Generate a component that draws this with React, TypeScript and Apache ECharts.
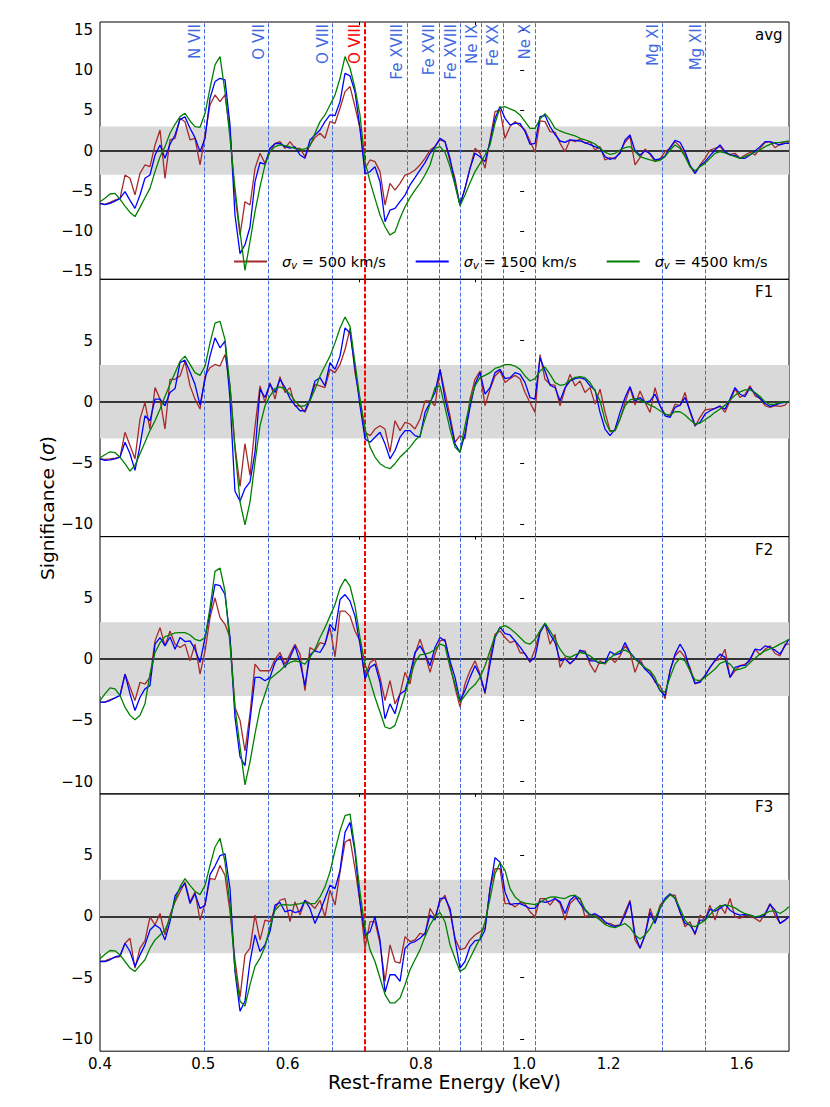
import React, { useEffect, useRef } from 'react';
import * as echarts from 'echarts';

// Energy grid (keV)
const E = [0.4000,0.4043,0.4087,0.4132,0.4177,0.4222,0.4268,0.4314,0.4361,0.4408,
0.4456,0.4505,0.4554,0.4603,0.4653,0.4704,0.4755,0.4806,0.4859,0.4911,
0.4965,0.5019,0.5073,0.5128,0.5184,0.5240,0.5297,0.5354,0.5413,0.5471,
0.5531,0.5591,0.5652,0.5713,0.5775,0.5838,0.5901,0.5965,0.6030,0.6095,
0.6162,0.6228,0.6296,0.6364,0.6434,0.6503,0.6574,0.6646,0.6718,0.6791,
0.6865,0.6939,0.7014,0.7091,0.7168,0.7245,0.7324,0.7404,0.7484,0.7565,
0.7648,0.7731,0.7815,0.7899,0.7985,0.8072,0.8160,0.8248,0.8338,0.8428,
0.8520,0.8612,0.8706,0.8800,0.8896,0.8993,0.9091,0.9189,0.9289,0.9390,
0.9492,0.9595,0.9699,0.9805,0.9911,1.0019,1.0127,1.0237,1.0349,1.0461,
1.0575,1.0690,1.0806,1.0923,1.1042,1.1162,1.1283,1.1405,1.1529,1.1655,
1.1781,1.1909,1.2038,1.2169,1.2301,1.2435,1.2570,1.2706,1.2844,1.2984,
1.3125,1.3267,1.3411,1.3557,1.3704,1.3853,1.4003,1.4155,1.4309,1.4465,
1.4622,1.4780,1.4941,1.5103,1.5267,1.5433,1.5601,1.5770,1.5941,1.6114,
1.6289,1.6466,1.6645,1.6826,1.7009,1.7193,1.7380,1.7569,1.7717];

const AVG_500 = [-6.56,-6.68,-6.43,-6.14,-5.93,-3.03,-3.44,-5.5,-2.82,-1.78,
-1.99,0.71,2.57,-3.44,1.33,1.54,4.02,3.6,1.33,1.54,
-1.78,1.95,5.68,6.93,6.1,6.93,2.37,-5.52,-10.5,-6.35,
-6.76,-2.2,-0.33,-1.58,-0.12,0.91,1.12,0.29,1.12,0.29,
0.29,-0.75,0.71,1.62,2.16,1.54,3.61,3.4,5.27,7.34,
7.97,5.48,2.78,-2.2,-1.16,-1.37,-2.61,-6.76,-4.07,-4.9,
-4.07,-3.03,-2.82,-2.41,-1.78,-0.95,0.08,0.5,1.33,1.12,
-1.37,-3.44,-6.8,-4.69,-2.2,0.29,-0.33,-2.2,1.33,4.85,
5.06,1.54,2.99,3.61,3.11,2.57,1.2,-0.2,3.7,3.61,
2.37,2.28,0.91,-0.12,1.33,1.12,1.45,0.91,1.12,0.08,
0.5,-1.16,-0.87,-1.04,-0.12,1.04,1.74,-1.78,-0.87,0.21,
-0.46,-1.37,-1.04,-0.12,0.29,1.12,0.5,-0.46,-1.99,-2.82,
-1.78,-0.95,0.08,0.29,0.5,-0.2,-0.46,-0.33,-0.95,-0.54,
-0.2,-0.54,0.29,1.0,1.12,0.37,0.79,1.12,1.04];
const AVG_1500 = [-6.56,-6.72,-6.56,-6.27,-5.93,-5.1,-6.18,-7.18,-5.52,-3.44,
-3.03,-0.54,0.71,-0.95,0.79,1.95,3.9,4.2,2.78,1.62,
-0.12,1.54,6.51,8.59,9.0,8.8,3.2,-8.0,-12.8,-11.7,
-9.5,-3.86,-1.45,-1.7,0.3,0.87,0.91,0.5,0.3,0.46,
-0.54,-0.95,1.33,1.95,2.57,3.6,4.44,4.36,6.1,9.6,
9.3,7.3,2.8,-2.9,-2.6,-2.0,-3.86,-8.84,-7.39,-7.18,
-6.35,-5.52,-4.27,-3.36,-2.41,-1.49,-0.33,0.5,1.54,1.12,
-0.95,-4.07,-6.68,-4.69,-2.2,-0.33,-0.75,-1.37,1.12,4.02,
5.5,4.02,3.2,3.4,3.4,2.37,0.79,0.91,4.23,4.36,
3.0,2.0,1.2,1.04,1.33,1.29,1.2,1.0,0.75,0.5,
0.29,-0.75,-1.08,-0.87,-0.33,1.33,1.95,-0.04,-0.54,-0.04,
-0.33,-1.16,-1.04,-0.66,0.37,1.29,1.04,-0.12,-1.78,-2.82,
-1.87,-1.37,-0.62,0.08,0.71,-0.12,-0.54,-0.58,-0.95,-0.95,
-0.54,-0.04,0.5,1.12,1.12,0.91,0.71,0.91,0.91];
const AVG_4500 = [-6.35,-5.93,-5.39,-5.31,-6.06,-6.89,-7.68,-8.2,-7.05,-5.85,
-4.69,-2.61,-0.75,0.5,2.16,3.28,4.23,4.65,3.69,2.99,
2.9,4.65,7.76,10.66,11.7,7.34,1.54,-4.69,-10.1,-14.9,
-11.3,-7.59,-4.48,-1.78,-0.12,0.5,0.71,0.62,0.46,0.29,
0.12,0.21,0.58,2.16,3.61,4.44,5.68,6.93,9.0,11.7,
10.25,7.76,4.44,-1.4,-3.86,-5.93,-8.0,-9.46,-10.5,-10.1,
-8.42,-6.97,-5.85,-4.9,-4.07,-3.03,-1.78,0.29,0.5,-0.2,
-1.99,-4.27,-6.85,-5.52,-3.98,-2.61,-1.58,-0.54,0.71,3.4,
5.35,5.48,5.19,4.94,4.44,3.61,2.78,2.78,3.94,4.61,
3.82,2.78,2.45,2.2,2.03,1.83,1.54,1.33,1.12,0.83,
0.29,-0.2,-0.46,-0.33,0.08,0.37,0.5,-0.12,-0.75,-0.95,
-1.16,-1.29,-1.2,-0.75,0.08,0.71,0.29,-0.75,-1.99,-2.49,
-1.99,-1.58,-0.95,-0.33,-0.12,-0.29,-0.54,-0.75,-0.95,-0.75,
-0.46,-0.2,0.08,0.5,0.79,1.0,1.04,1.12,1.2];

const F1_500 = [-4.65,-4.7,-4.65,-4.59,-4.51,-2.49,-3.57,-4.65,-1.41,-0.05,
-2.22,1.16,0.22,-2.22,1.84,1.84,2.11,3.3,1.3,0.22,
-0.59,2.11,2.78,3.05,2.92,3.86,1.3,-3.6,-6.9,-3.4,
-6.0,-2.0,1.3,-0.05,1.57,0.22,2.05,0.76,1.16,-0.32,
-0.32,-0.86,0.08,1.43,1.3,1.16,2.65,2.38,3.05,4.27,
6.0,2.38,0.22,-2.49,-2.76,-2.22,-1.95,-2.22,-4.11,-1.54,
-2.35,-1.68,-1.81,-2.22,-1.41,0.08,0.08,-0.32,2.65,0.76,
-1.14,-3.3,-2.76,-3.03,0.22,1.84,2.51,-0.32,1.03,2.11,
2.51,1.57,1.89,2.16,1.89,0.76,-0.05,-0.86,3.86,1.84,
1.43,1.35,-0.32,1.03,2.24,1.3,1.7,0.76,1.16,-0.19,
1.03,-0.86,-2.35,-2.35,-1.41,-0.05,1.16,-0.27,0.89,-0.05,
-0.86,1.16,-0.32,-1.0,-1.14,-0.19,-0.32,0.76,-0.86,-2.0,
-1.27,-0.65,-0.59,-0.54,-0.32,-0.86,0.08,1.03,0.35,0.62,
1.3,0.49,0.27,-0.32,-0.46,-0.32,-0.38,-0.27,0.08];
const F1_1500 = [-4.65,-4.78,-4.73,-4.65,-4.51,-3.3,-4.24,-5.59,-3.57,-1.14,
-1.54,0.22,0.22,-0.32,0.76,1.08,3.2,3.4,2.43,1.43,
-0.27,1.84,3.73,5.22,4.41,4.95,0.22,-7.3,-8.11,-7.08,
-6.54,-4.11,1.03,0.35,1.43,0.76,1.84,1.16,0.27,-0.27,
-0.73,-0.73,0.22,1.7,1.97,1.3,3.19,2.65,3.73,6.03,
5.62,2.78,-0.32,-3.03,-3.3,-2.89,-2.49,-3.43,-4.65,-3.97,
-2.89,-2.35,-2.35,-2.76,-2.89,-0.86,-0.05,0.76,2.65,0.22,
-1.54,-3.43,-4.11,-2.62,-0.46,1.43,2.38,0.62,1.16,2.38,
2.65,1.89,1.97,2.38,2.24,1.57,0.35,0.22,3.59,2.51,
1.35,1.16,0.08,1.16,1.7,1.89,1.97,1.84,1.3,0.97,
-0.86,-2.22,-2.76,-2.22,-0.86,0.35,1.24,0.08,0.35,-0.05,
0.08,0.62,-0.32,-1.14,-1.27,-0.46,-0.27,0.35,-0.73,-1.89,
-1.68,-1.0,-0.73,-0.54,-0.38,-0.59,0.22,1.16,0.62,0.43,
1.16,0.7,0.27,-0.14,-0.38,-0.27,-0.11,-0.05,0];
const F1_4500 = [-4.57,-4.32,-4.08,-4.14,-4.54,-5.05,-5.65,-5.19,-4.24,-3.3,
-2.35,-1.54,-0.59,0.43,1.43,2.38,3.32,3.73,3.05,2.38,
2.16,2.92,4.81,6.43,6.57,5.08,1.3,-3.84,-8.16,-10.05,
-8.16,-4.92,-1.95,-0.32,0.49,1.08,1.22,1.03,0.62,0.08,
-0.38,-0.32,0.08,1.03,2.11,2.92,3.73,4.81,6.03,6.92,
6.16,3.19,0.22,-2.22,-3.7,-4.51,-5.05,-5.32,-5.46,-5.05,
-4.51,-4.11,-3.7,-3.16,-2.76,-1.41,-0.19,1.16,1.3,-0.46,
-2.22,-3.7,-4.11,-1.95,-0.05,1.3,1.97,2.16,2.38,2.73,
2.86,3.03,3.03,2.92,2.65,2.11,1.7,1.89,2.51,2.84,
2.24,1.57,1.35,1.43,1.78,2.0,2.05,1.97,1.57,0.89,
0.08,-1.54,-2.43,-2.35,-1.41,-0.32,0.16,0.27,0.16,-0.05,
-0.27,-0.46,-0.73,-1.0,-1.08,-0.81,-0.81,-1.08,-1.46,-1.81,
-1.73,-1.46,-1.19,-0.86,-0.59,-0.27,0.16,0.54,0.81,0.97,
0.97,0.76,0.43,0,-0.22,-0.19,-0.05,-0.03,0];

const F2_500 = [-3.51,-3.51,-3.32,-3.16,-2.97,-1.22,-2.3,-3.38,-1.89,-2.03,
-1.49,1.49,2.57,1.08,2.3,1.22,0.95,1.22,-0.14,1.22,
-1.22,0.68,3.38,5.0,3.38,2.84,1.76,-3.92,-5.0,-7.5,
-4.46,-0.41,-0.95,-0.95,-0.95,0,0.54,-0.41,0.41,1.22,
0.41,-2.57,0.95,0.68,1.35,1.22,2.57,0.19,3.92,3.92,
3.51,2.3,1.49,-1.49,-0.27,0,-1.49,-3.38,-1.76,-3.65,
-2.84,-1.08,-2.03,0.41,1.62,0.41,-1.08,0.41,1.49,1.62,
-0.41,-2.3,-3.92,-2.03,-0.95,-0.14,-1.22,-2.84,0.14,2.03,
2.3,1.76,1.35,1.49,0.54,0.46,-0.27,0.81,2.3,2.89,
1.22,2.03,-0.68,0.14,-0.41,0,0.68,0.68,-0.41,-1.08,
-0.14,-0.41,0.14,-0.27,0.27,1.08,0.54,-1.08,0,-0.81,
-0.95,-1.89,-2.16,-3.24,-0.95,0.27,0.68,0.14,-0.68,-2.03,
-1.76,-1.35,-0.68,-0.14,0,0.81,-1.49,-0.95,-0.54,-0.41,
-0.14,0.81,0.35,0.81,1.08,0.46,0.27,1.22,1.22];
const F2_1500 = [-3.51,-3.51,-3.38,-3.16,-2.97,-1.22,-2.84,-4.19,-3.11,-2.43,
-2.16,1.22,1.76,1.08,1.81,0.81,1.76,1.43,1.49,0.81,
-0.27,1.76,3.78,6.1,6.0,5.27,1.76,-4.73,-7.97,-8.7,
-5.0,-1.49,-1.49,-1.76,-1.49,-0.27,0.27,-0.68,0.14,1.08,
-0.27,-2.16,0.35,0.68,0.54,1.22,2.84,2.3,4.86,5.27,
4.73,3.51,1.22,-1.62,-0.68,-0.41,-1.89,-4.86,-3.65,-4.46,
-2.84,-2.57,-1.22,0.54,1.08,0.41,-0.54,0.95,1.76,1.49,
-0.14,-1.49,-3.38,-2.57,-1.49,-0.54,-1.35,-2.7,-0.41,1.76,
2.62,2.08,1.97,1.49,1.0,0.41,-0.19,0.14,2.16,2.89,
2.03,1.35,-0.14,0,-0.35,0,0.73,0.54,-0.14,-0.14,
-0.35,-0.27,0.62,0.35,0.46,1.35,0.54,0.05,-0.27,-0.81,
-1.22,-1.76,-2.57,-2.97,-0.95,0.41,1.22,0.54,-0.95,-1.97,
-1.89,-1.35,-0.68,-0.08,0.41,0.14,-1.49,-0.68,-0.54,-0.51,
0,0.81,0.73,1.08,0.95,0.73,0.41,1.08,1.62];
const F2_4500 = [-3.38,-2.84,-2.35,-2.43,-2.97,-3.92,-4.59,-4.95,-4.59,-3.65,
-1.22,0.54,1.35,1.84,1.97,2.14,2.16,2.16,1.97,1.62,
1.49,1.76,4.19,7.16,7.43,5.54,1.22,-3.92,-7.16,-10.27,
-8.38,-6.08,-4.05,-2.84,-1.62,-1.27,-0.95,-0.54,-0.27,-0.14,
-0.22,-0.41,0.14,0.81,1.76,2.57,3.51,4.46,5.81,6.54,
5.95,4.32,1.76,-0.41,-1.76,-3.11,-4.32,-5.54,-5.68,-5.41,
-4.19,-2.84,-1.49,-0.27,0.35,0.41,0.54,0.78,1.22,1.08,
-0.68,-2.03,-3.51,-2.97,-2.43,-2.08,-1.49,-0.54,0.68,1.89,
2.57,2.73,2.51,2.16,1.76,1.35,1.22,1.62,2.3,2.95,
2.3,1.62,0.81,0.27,0.14,0.35,0.54,0.46,0.27,-0.08,
-0.35,-0.35,0.08,0.41,0.68,0.73,0.51,0,-0.35,-0.68,
-0.95,-1.49,-2.57,-2.7,-1.49,-0.41,0.08,-0.14,-0.95,-1.7,
-1.76,-1.49,-1.16,-0.81,-0.35,-0.19,-0.41,-0.89,-0.81,-0.68,
-0.3,0.08,0.41,0.68,0.84,1.0,1.22,1.43,1.62];

const F3_500 = [-3.68,-3.62,-3.46,-3.35,-3.27,-2.19,-1.78,-4.22,-2.59,-2.0,
-0.03,-0.7,0.24,-1.51,0.11,1.19,2.0,2.81,1.19,2.0,
-0.3,1.05,3.08,3.03,4.16,3.35,0.38,-3.54,-6.6,-3.14,
-2.59,0.11,-1.92,-0.3,-0.43,0.65,1.32,1.46,-0.43,1.19,
0.11,1.32,1.05,0.65,1.32,-0.03,2.14,0.92,3.62,6.05,
6.32,3.89,1.19,-2.59,-0.43,-0.43,-2.19,-5.3,-2.32,-3.68,
-3.81,-1.65,-2.05,-1.92,-1.38,-1.51,0.65,-0.03,1.19,1.73,
0.38,-1.78,-2.73,-2.59,-1.92,-1.51,-1.24,-0.97,2.27,3.89,
3.89,1.05,1.05,0.78,1.14,1.03,0.38,-0.03,1.46,1.46,
0.92,1.46,1.05,-0.3,1.05,1.46,1.46,-0.03,0.16,0.11,
-0.22,-0.57,-0.57,-0.76,-0.7,0.38,1.32,-1.92,-2.59,-1.51,
0.65,-0.43,0.92,1.41,1.73,1.73,0.38,-0.84,-0.43,-1.51,
0.11,-0.3,0.92,-0.3,0.92,0.24,1.46,-0.03,-0.16,0.11,
0.03,-0.16,-0.43,0.24,1.05,0.11,-0.57,-0.3,-0.03];
const F3_1500 = [-3.68,-3.68,-3.54,-3.3,-3.19,-2.19,-2.86,-4.08,-3.14,-2.32,
-1.11,-0.7,-0.97,-1.92,-0.43,1.68,2.27,2.68,1.05,1.86,
0.65,0.92,3.41,4.11,4.97,5.11,2.27,-4.49,-7.73,-6.92,
-3.68,-1.51,-2.86,-2.32,-1.24,0.92,1.14,0.38,0.51,0.32,
0.43,1.32,0.65,-0.57,0.38,1.46,2.54,2.27,3.76,6.86,
7.68,5.24,1.19,-1.51,-1.24,-0.03,-1.92,-6.2,-4.76,-4.76,
-5.3,-2.59,-2.19,-2.05,-1.78,-1.38,0.11,-0.3,1.46,1.51,
0.65,-1.92,-4.22,-3.68,-2.46,-1.97,-1.92,-1.11,2.27,4.8,
4.43,2.0,0.97,1.05,1.05,0.86,0.65,0.65,1.24,1.14,
1.24,1.46,1.19,0.24,1.32,1.68,1.05,0.51,0.11,0.22,
-0.03,-0.43,-0.7,-0.84,-0.7,0.11,1.19,-1.51,-2.59,-1.51,
0.32,-0.57,0.65,1.46,1.86,1.46,0.38,-0.57,-0.7,-1.38,
-0.3,-0.3,0.59,0.43,0.65,0.97,0.51,0.24,0.11,0.16,
0.11,-0.03,-0.03,0.11,0.97,0.51,-0.57,-0.3,-0.03];
const F3_4500 = [-3.46,-3.08,-2.78,-2.81,-3.14,-3.68,-4.22,-4.49,-4.0,-3.54,
-2.59,-1.92,-1.51,-1.11,-0.16,1.32,2.41,3.08,2.54,2.05,
1.78,2.54,4.16,5.65,6.38,4.43,0.92,-4.35,-6.92,-7.32,
-5.57,-4.08,-3.41,-2.46,-0.84,0.51,0.92,0.97,0.92,0.97,
1.05,1.14,1.05,1.05,1.59,2.41,3.62,5.38,7.0,8.22,
8.35,5.51,2.0,-0.97,-2.73,-3.68,-5.03,-6.38,-7.05,-7.05,
-6.65,-5.57,-4.35,-3.54,-2.73,-1.65,-0.7,-0.03,0.32,-0.43,
-2.32,-3.41,-4.49,-4.22,-3.41,-2.59,-1.78,-0.43,1.46,3.49,
4.38,3.76,2.27,1.59,1.24,1.08,1.03,0.97,1.14,1.41,
1.57,1.59,1.51,1.46,1.68,1.73,1.46,0.59,0.16,0,
-0.3,-0.65,-0.84,-0.92,-0.76,-0.57,-0.92,-1.51,-1.84,-1.51,
-0.97,-0.16,0.7,1.32,1.78,1.51,0.65,-0.3,-0.76,-0.84,
-0.57,-0.32,0.16,0.57,0.86,0.92,0.86,0.7,0.43,0.22,
0.11,-0.03,0.05,0.24,0.43,0.43,0.24,0.51,0.78];

// Line identifications (keV)
const LINE_NAMES = ['N VII','O VII','O VIII','O VIII','Fe XVIII','Fe XVII','Fe XVIII','Ne IX','Fe XX','Ne X','Mg XI','Mg XII'];
const LINE_E = [0.500,0.574,0.654,0.707,0.772,0.826,0.873,0.922,0.965,1.022,1.352,1.472];
const HIGHLIGHT = 3;

const X_TICKS = [0.4,0.5,0.6,0.8,1.0,1.2,1.6];
const X_MINOR = [0.7,0.9];
const X_MIN = 0.4;
const X_MAX = 1.772;

const PANELS = ['avg','F1','F2','F3'];
const Y_RANGES = [[-16,16],[-11,10],[-11,10],[-11,10]];
const Y_TICKS = [[-15,-10,-5,0,5,10,15],[-10,-5,0,5],[-10,-5,0,5],[-10,-5,0,5]];
const BAND = 3;

const SIGMA_V = [500,1500,4500];
const SERIES_NAMES = ['v500','v1500','v4500'];
const COLORS = ['#a52a2a','#0000ff','#008000'];
const DATA = [
  [AVG_500, AVG_1500, AVG_4500],
  [F1_500, F1_1500, F1_4500],
  [F2_500, F2_1500, F2_4500],
  [F3_500, F3_1500, F3_4500],
];

const FONT = 'DejaVu Sans';
const GRID_LEFT = 100;
const GRID_RIGHT = 41;
const GRID_TOP = 22;
const PANEL_H = 257.3;

const lg = (v: number) => Math.log10(v);
const fmtY = (v: number) => (v < 0 ? '\u2212' + Math.abs(v) : String(v));

function buildOption() {
  const grid: any[] = [];
  const xAxis: any[] = [];
  const yAxis: any[] = [];
  const series: any[] = [];
  const graphic: any[] = [];

  for (let p = 0; p < 4; p++) {
    const top = GRID_TOP + PANEL_H * p;
    grid.push({
      left: GRID_LEFT, right: GRID_RIGHT, top, height: PANEL_H,
      show: true, borderColor: '#000', borderWidth: 1, backgroundColor: 'transparent',
    });
    const last = p === 3;
    xAxis.push({
      type: 'value', gridIndex: p, min: lg(X_MIN), max: lg(X_MAX),
      axisLine: { show: false }, splitLine: { show: false },
      axisTick: { show: true, inside: true, length: 5, customValues: X_TICKS.map(lg), lineStyle: { color: '#000', width: 1 } },
      axisLabel: {
        show: last, customValues: X_TICKS.map(lg), margin: 5,
        formatter: (v: number) => Math.pow(10, v).toFixed(1),
        fontSize: 15, color: '#000', fontFamily: FONT,
      },
      name: last ? 'Rest-frame Energy (keV)' : '',
      nameLocation: 'middle', nameGap: 21,
      nameTextStyle: { fontSize: 19, color: '#000', fontFamily: FONT },
    });
    xAxis.push({
      type: 'value', gridIndex: p, min: lg(X_MIN), max: lg(X_MAX),
      axisLine: { show: false }, splitLine: { show: false },
      axisTick: { show: true, inside: true, length: 3, customValues: X_MINOR.map(lg), lineStyle: { color: '#000', width: 1 } },
      axisLabel: { show: false },
    });
    yAxis.push({
      type: 'value', gridIndex: p, min: Y_RANGES[p][0], max: Y_RANGES[p][1],
      axisLine: { show: false }, splitLine: { show: false },
      axisTick: { show: true, length: 4, customValues: Y_TICKS[p], lineStyle: { color: '#000' } },
      axisLabel: { customValues: Y_TICKS[p], formatter: fmtY, fontSize: 15, color: '#000', fontFamily: FONT, margin: 7 },
    });

    // helper series: shaded band, zero line, line identifications
    series.push({
      type: 'line', xAxisIndex: p * 2, yAxisIndex: p, data: [], silent: true, z: 1,
      markArea: {
        silent: true, z: 1,
        itemStyle: { color: '#d9d9d9' },
        data: [[{ yAxis: -BAND }, { yAxis: BAND }]],
      },
      markLine: {
        silent: true, symbol: ['none', 'none'], z: 2, animation: false,
        data: [
          { yAxis: 0, lineStyle: { color: '#000', width: 1.5, type: 'solid' }, label: { show: false } },
          ...LINE_E.map((e, j) => {
            const hl = j === HIGHLIGHT;
            const c = hl ? '#ff0000' : '#4169e1';
            return {
              xAxis: lg(e), name: LINE_NAMES[j],
              lineStyle: { color: c, width: hl ? 2 : 1, type: hl ? [5, 2] : [4, 2] },
              label: p === 0
                ? { show: true, position: 'insideEndTop', formatter: LINE_NAMES[j], color: c, fontSize: 15, fontFamily: FONT, distance: 2 }
                : { show: false },
            };
          }),
        ],
      },
    });

    for (let s = 0; s < 3; s++) {
      const vals = DATA[p][s];
      series.push({
        type: 'line', name: SERIES_NAMES[s], xAxisIndex: p * 2, yAxisIndex: p,
        data: E.map((e, i) => [lg(e), vals[i]]),
        showSymbol: false, symbol: 'none', silent: true, z: 3 + s,
        lineStyle: { color: COLORS[s], width: 1.3 },
        itemStyle: { color: COLORS[s] },
      });
    }

    graphic.push({
      type: 'text', x: 755, y: top + 13,
      style: { text: PANELS[p], fontSize: 15, fontFamily: FONT, fill: '#000', verticalAlign: 'middle' },
    });
  }

  graphic.push({
    type: 'text', x: 47, y: 508, rotation: Math.PI / 2,
    style: {
      text: '{a|Significance (}{b|σ}{a|)}',
      align: 'center', verticalAlign: 'middle',
      rich: {
        a: { fontSize: 18.5, fontFamily: FONT, fill: '#000' },
        b: { fontSize: 18.5, fontFamily: FONT, fontStyle: 'italic', fill: '#000' },
      },
    },
  });

  return {
    animation: false,
    textStyle: { fontFamily: FONT },
    grid, xAxis, yAxis, series, graphic,
    legend: {
      data: SERIES_NAMES.map((n) => ({ name: n, icon: 'rect' })),
      left: 229, top: 249,
      itemWidth: 33, itemHeight: 2, itemGap: 30, selectedMode: false,
      formatter: (n: string) => `{s|σ}{v|v}{t| = ${SIGMA_V[SERIES_NAMES.indexOf(n)]} km/s}`,
      textStyle: {
        fontSize: 14, color: '#000', fontFamily: FONT, padding: [0, 0, 0, 10],
        rich: {
          s: { fontSize: 14.5, fontStyle: 'italic', fontFamily: FONT, color: '#000', lineHeight: 18 },
          v: { fontSize: 10, fontStyle: 'italic', fontFamily: FONT, color: '#000', verticalAlign: 'bottom', lineHeight: 18 },
          t: { fontSize: 14.5, fontFamily: FONT, color: '#000', lineHeight: 18 },
        },
      },
    },
  };
}

export default function App() {
  const ref = useRef<HTMLDivElement>(null);
  useEffect(() => {
    if (!ref.current) return;
    const chart = echarts.init(ref.current, undefined, { renderer: 'svg' });
    chart.setOption(buildOption() as any);
    return () => chart.dispose();
  }, []);
  return <div ref={ref} style={{ position: 'absolute', left: 0, top: 0, width: 830, height: 1107, background: '#fff' }} />;
}
